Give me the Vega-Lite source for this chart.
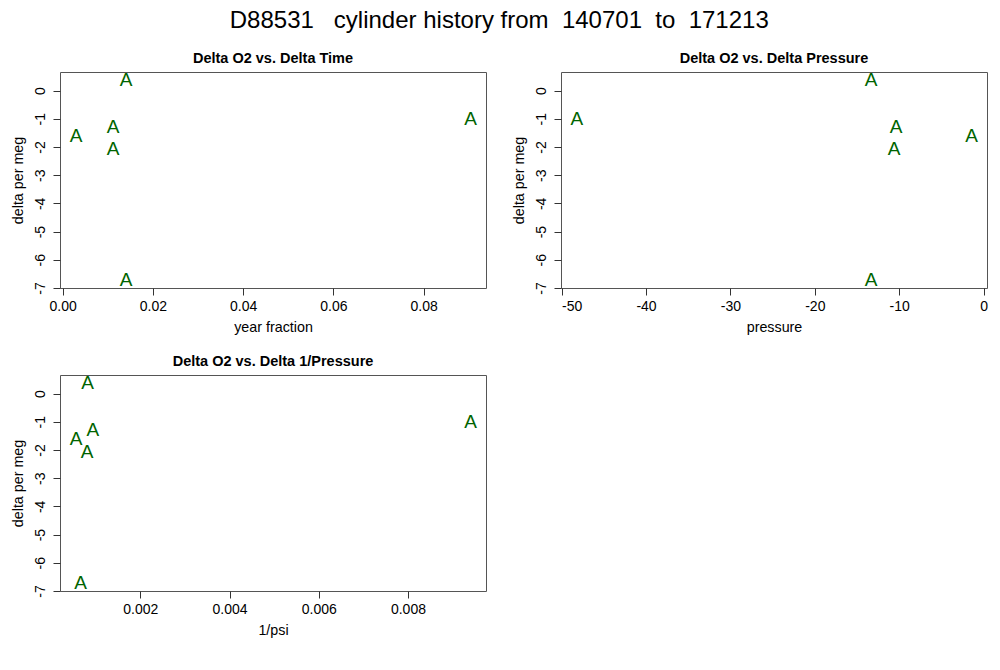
{
  "$schema": "https://vega.github.io/schema/vega-lite/v6.json",
  "background": "white",
  "padding": {"left": 10, "top": 8, "right": 5, "bottom": 5},
  "title": {"text": "D88531\u00a0\u00a0\u00a0cylinder history from\u00a0\u00a0140701\u00a0\u00a0to\u00a0\u00a0171213", "fontSize": 24, "font": "Liberation Sans", "fontWeight": "normal", "color": "black", "anchor": "middle", "offset": 18},
  "data": {"values": [
    {"yf": 0.01405, "dp": -13.34, "dip": 0.000818, "d": 0.38},
    {"yf": 0.0904, "dp": -48.18, "dip": 0.009406, "d": -1.02},
    {"yf": 0.01117, "dp": -10.38, "dip": 0.000939, "d": -1.28},
    {"yf": 0.00297, "dp": -1.42, "dip": 0.000558, "d": -1.61},
    {"yf": 0.01117, "dp": -10.62, "dip": 0.000805, "d": -2.06},
    {"yf": 0.01405, "dp": -13.34, "dip": 0.000661, "d": -6.72}
  ]},
  "columns": 2,
  "spacing": {"row": 18, "column": 24},
  "config": {
    "font": "Liberation Sans",
    "view": {"stroke": "#555555", "strokeWidth": 1},
    "title": {"fontSize": 14.5, "fontWeight": "bold", "font": "Liberation Sans", "color": "black", "offset": 4},
    "axis": {"domain": false, "grid": false, "tickColor": "#333333", "tickSize": 7, "labelFontSize": 14, "labelColor": "black", "titleFontSize": 14.3, "titleFontWeight": "normal", "titleColor": "black", "labelFont": "Liberation Sans", "titleFont": "Liberation Sans"},
    "axisY": {"labelAngle": 270, "labelAlign": "center", "labelBaseline": "bottom", "labelPadding": 6, "titlePadding": 8, "labelExpr": "replace(datum.label, '\u2212', '-')"},
    "axisX": {"labelPadding": 4, "titlePadding": 7, "labelExpr": "replace(datum.label, '\u2212', '-')"},
    "text": {"fontSize": 19, "color": "#006400", "font": "Liberation Sans", "baseline": "middle", "align": "center"}
  },
  "concat": [
    {
      "title": "Delta O2 vs. Delta Time",
      "width": 426, "height": 216,
      "mark": {"type": "text", "text": "A"},
      "encoding": {
        "x": {"field": "yf", "type": "quantitative", "scale": {"domain": [-0.00058, 0.0938], "nice": false, "zero": false}, "axis": {"title": "year fraction", "values": [0, 0.02, 0.04, 0.06, 0.08], "format": ".2f"}},
        "y": {"field": "d", "type": "quantitative", "scale": {"domain": [-7.0, 0.66], "nice": false, "zero": false}, "axis": {"title": "delta per meg", "values": [0, -1, -2, -3, -4, -5, -6, -7], "format": "d"}}
      }
    },
    {
      "title": "Delta O2 vs. Delta Pressure",
      "width": 426, "height": 216,
      "mark": {"type": "text", "text": "A"},
      "encoding": {
        "x": {"field": "dp", "type": "quantitative", "scale": {"domain": [-50.07, 0.4], "nice": false, "zero": false}, "axis": {"title": "pressure", "values": [-50, -40, -30, -20, -10, 0], "format": "d"}},
        "y": {"field": "d", "type": "quantitative", "scale": {"domain": [-7.0, 0.66], "nice": false, "zero": false}, "axis": {"title": "delta per meg", "values": [0, -1, -2, -3, -4, -5, -6, -7], "format": "d"}}
      }
    },
    {
      "title": "Delta O2 vs. Delta 1/Pressure",
      "width": 426, "height": 216,
      "mark": {"type": "text", "text": "A"},
      "encoding": {
        "x": {"field": "dip", "type": "quantitative", "scale": {"domain": [0.0002, 0.00975], "nice": false, "zero": false}, "axis": {"title": "1/psi", "values": [0.002, 0.004, 0.006, 0.008], "format": ".3f"}},
        "y": {"field": "d", "type": "quantitative", "scale": {"domain": [-7.0, 0.66], "nice": false, "zero": false}, "axis": {"title": "delta per meg", "values": [0, -1, -2, -3, -4, -5, -6, -7], "format": "d"}}
      }
    }
  ]
}
